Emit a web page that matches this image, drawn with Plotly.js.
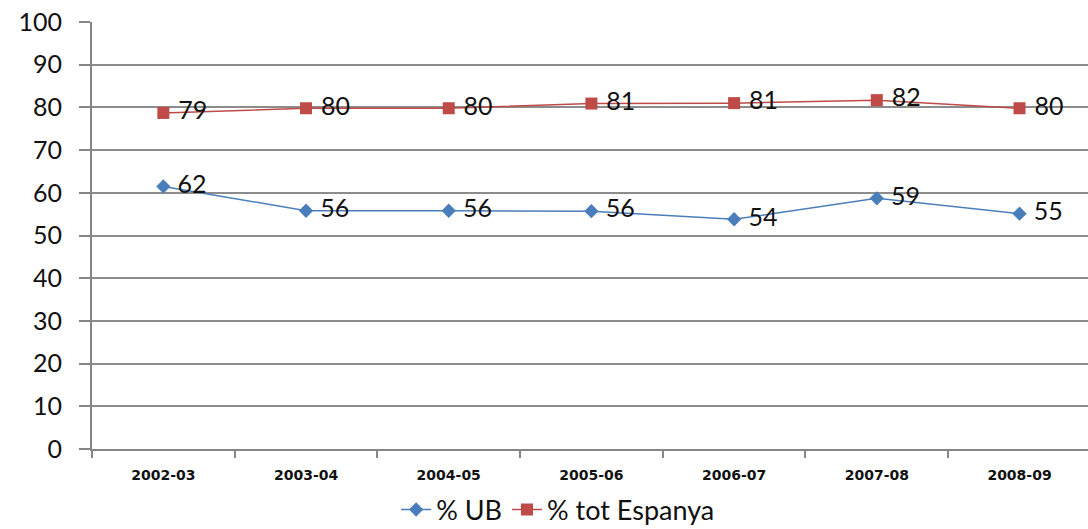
<!DOCTYPE html>
<html>
<head>
<meta charset="utf-8">
<script src="https://cdn.plot.ly/plotly-3.0.1.min.js"></script>
<style>html,body{margin:0;padding:0;background:#fff;overflow:hidden}#chart{width:1088px;height:529px}</style>
</head>
<body>
<div id="chart"></div>
<script>
const categories = ["2002-03","2003-04","2004-05","2005-06","2006-07","2007-08","2008-09"];
const ubValues = [61.5, 55.8, 55.8, 55.7, 53.8, 58.7, 55.1];
const espanyaValues = [78.7, 79.8, 79.8, 80.9, 81.0, 81.7, 79.8];
const ubName = "% UB";
const espanyaName = "% tot Espanya";
const yTicks = [0,10,20,30,40,50,60,70,80,90,100];

const labelFont = {family: "Lato, 'Liberation Sans', sans-serif", size: 25, color: "#111"};

const traces = [
  {
    x: categories, y: ubValues, name: ubName, type: "scatter", mode: "lines+markers+text",
    line: {color: "#4A7EBB", width: 1.5},
    marker: {symbol: "diamond", size: 11, color: "#4A7EBB"},
    texttemplate: "\u00a0%{y:.0f}", textposition: "middle right", textfont: labelFont,
    hoverinfo: "x+y"
  },
  {
    x: categories, y: espanyaValues, name: espanyaName, type: "scatter", mode: "lines+markers+text",
    line: {color: "#BE4B48", width: 1.5},
    marker: {symbol: "square", size: 12, color: "#BE4B48"},
    texttemplate: "\u00a0%{y:.0f}", textposition: "middle right", textfont: labelFont,
    hoverinfo: "x+y"
  }
];

const layout = {
  width: 1088, height: 529,
  margin: {l: 92, r: 0, t: 22, b: 80, pad: 0, autoexpand: false},
  paper_bgcolor: "#fff", plot_bgcolor: "#fff",
  showlegend: true,
  legend: {
    orientation: "h", x: 0.468, xanchor: "center",
    yref: "container", y: 0.036, yanchor: "middle",
    font: {family: "Lato, 'Liberation Sans', sans-serif", size: 27, color: "#111"},
    itemwidth: 30, tracegroupgap: 0
  },
  xaxis: {
    type: "category", range: [-0.5, 6.48], automargin: false,
    showline: true, linecolor: "#868686", linewidth: 2,
    ticks: "outside", tickson: "boundaries", ticklen: 7, tickcolor: "#868686", tickwidth: 2,
    showgrid: false, zeroline: false,
    tickfont: {family: "'DejaVu Sans', sans-serif", size: 14, color: "#111", weight: "bold"},
    ticklabelstandoff: 12
  },
  yaxis: {
    range: [0, 100], tickvals: yTicks, ticktext: yTicks.map(String), automargin: false,
    showline: true, linecolor: "#868686", linewidth: 2,
    ticks: "outside", ticklen: 11, tickcolor: "#868686", tickwidth: 2,
    showgrid: true, gridcolor: "#8c8c8c", gridwidth: 2, zeroline: false,
    tickfont: {family: "Lato, 'Liberation Sans', sans-serif", size: 25, color: "#111"},
    ticklabelstandoff: 12
  }
};

Plotly.newPlot("chart", traces, layout, {displayModeBar: false, staticPlot: true});
</script>
</body>
</html>
